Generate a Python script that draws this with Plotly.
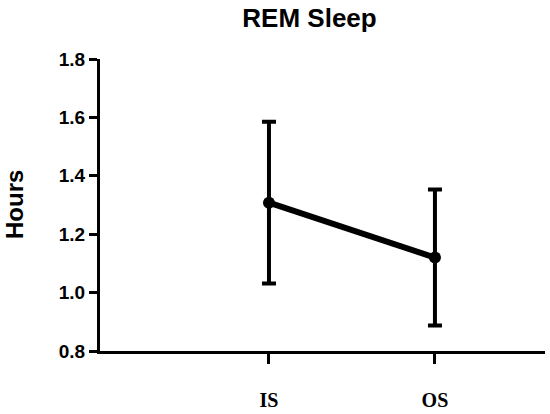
import plotly.graph_objects as go

categories = ["IS", "OS"]
means = [1.308, 1.120]
errors = [0.277, 0.233]
y_ticks = [0.8, 1.0, 1.2, 1.4, 1.6, 1.8]
y_tick_labels = ["0.8", "1.0", "1.2", "1.4", "1.6", "1.8"]
title_text = "REM Sleep"
y_title = "Hours"

x_pos = list(range(len(categories)))

fig = go.Figure()
fig.add_trace(go.Scatter(
    x=x_pos, y=means, mode="lines+markers",
    line=dict(color="black", width=6),
    marker=dict(color="black", size=12),
    error_y=dict(type="data", array=errors, visible=True,
                 color="black", thickness=4, width=7),
    showlegend=False, hoverinfo="skip",
))

W, H = 550, 414
L, R, T, B = 100, 5, 59, 63
plot_w = W - L - R

fig.update_layout(
    width=W, height=H,
    margin=dict(l=L, r=R, t=T, b=B, autoexpand=False),
    paper_bgcolor="white", plot_bgcolor="white",
    title=dict(text="<b>" + title_text + "</b>", x=309.5 / W, xref="container",
               xanchor="center", y=1 - 17.5 / H, yref="container", yanchor="middle",
               font=dict(family="Liberation Sans, Arial", size=26, color="black")),
    xaxis=dict(range=[-1.018, 1.663], tickmode="array", tickvals=x_pos,
               ticktext=["<b>" + c + "</b>" for c in categories],
               showline=True, linecolor="black", linewidth=3,
               ticks="outside", ticklen=10, tickwidth=3, tickcolor="black",
               ticklabelstandoff=19,
               tickfont=dict(family="Liberation Serif, Times New Roman", size=20, color="black"),
               showgrid=False, zeroline=False, fixedrange=True),
    yaxis=dict(range=[0.8, 1.8], tickmode="array", tickvals=y_ticks,
               ticktext=["<b>" + t + "</b>" for t in y_tick_labels],
               showline=True, linecolor="black", linewidth=3,
               ticks="outside", ticklen=8, tickwidth=3, tickcolor="black",
               ticklabelstandoff=0,
               tickfont=dict(family="Liberation Sans, Arial", size=19, color="black"),
               showgrid=False, zeroline=False, fixedrange=True),
    annotations=[dict(text="<b>" + y_title + "</b>", textangle=-90,
                      xref="paper", yref="paper",
                      x=(14 - L) / plot_w, y=0.5, xanchor="center", yanchor="middle",
                      showarrow=False,
                      font=dict(family="Liberation Sans, Arial", size=24, color="black"))],
)

# remove the browser's default 8px page margin so the figure fills the window
fig.write_html("out.html", config={"displayModeBar": False},
               post_script="document.body.style.margin='0';")
